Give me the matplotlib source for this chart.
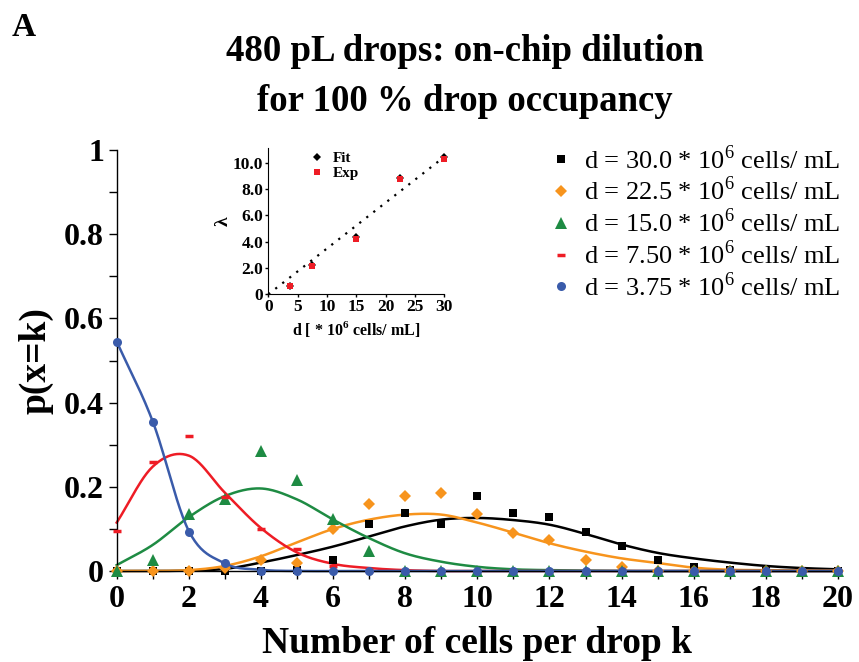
import numpy as np
import matplotlib
matplotlib.use("Agg")
import matplotlib.pyplot as plt
from matplotlib.lines import Line2D

plt.rcParams["font.family"] = ["Liberation Serif", "DejaVu Serif"]
plt.rcParams["mathtext.fontset"] = "custom"
plt.rcParams["mathtext.rm"] = "Liberation Serif"
plt.rcParams["mathtext.bf"] = "Liberation Serif:bold"

# ---- data -------------------------------------------------------------
k = list(range(21))

labels = [
    r"d = 30.0 * 10$^{6}$ cells/ mL",
    r"d = 22.5 * 10$^{6}$ cells/ mL",
    r"d = 15.0 * 10$^{6}$ cells/ mL",
    r"d = 7.50 * 10$^{6}$ cells/ mL",
    r"d = 3.75 * 10$^{6}$ cells/ mL",
]

# measured fractions of drops holding k cells
exp_30 = [0, 0, 0, 0.001, 0, 0.002, 0.026, 0.112, 0.137, 0.112, 0.178,
          0.137, 0.129, 0.093, 0.060, 0.026, 0.010, 0.003, 0.001, 0, 0]
exp_22 = [0, 0, 0, 0.006, 0.026, 0.018, 0.100, 0.160, 0.177, 0.185, 0.136,
          0.091, 0.074, 0.025, 0.010, 0, 0, 0, 0, 0, 0]
exp_15 = [0, 0.026, 0.135, 0.170, 0.284, 0.217, 0.124, 0.048, 0, 0, 0,
          0, 0, 0, 0, 0, 0, 0, 0, 0, 0]
exp_75 = [0.094, 0.260, 0.320, 0.175, 0.100, 0.052, 0.012, 0, 0, 0, 0,
          0, 0, 0, 0, 0, 0, 0, 0, 0, 0]
exp_375 = [0.545, 0.355, 0.093, 0.020, 0, 0, 0, 0, 0, 0, 0,
           0, 0, 0, 0, 0, 0, 0, 0, 0, 0]

# Poisson fits
fit_30 = [0, 0, 0.001, 0.005, 0.020, 0.038, 0.058, 0.082, 0.106, 0.122, 0.126,
          0.121, 0.110, 0.088, 0.063, 0.043, 0.030, 0.020, 0.012, 0.007, 0.004]
fit_22 = [0, 0, 0.002, 0.012, 0.035, 0.068, 0.100, 0.122, 0.134, 0.134, 0.115,
          0.091, 0.066, 0.046, 0.030, 0.019, 0.008, 0.003, 0.002, 0.001, 0.001]
fit_15 = [0.014, 0.062, 0.128, 0.178, 0.196, 0.170, 0.122, 0.078, 0.042, 0.022,
          0.010, 0.004, 0.002, 0.001, 0, 0, 0, 0, 0, 0, 0]
fit_75 = [0.115, 0.248, 0.274, 0.186, 0.102, 0.044, 0.017, 0.007, 0.002, 0, 0,
          0, 0, 0, 0, 0, 0, 0, 0, 0, 0]
fit_375 = [0.545, 0.355, 0.095, 0.018, 0.003, 0, 0, 0, 0, 0, 0,
           0, 0, 0, 0, 0, 0, 0, 0, 0, 0]

# inset: mean occupancy lambda versus cell density
dens = [3.75, 7.5, 15.0, 22.5, 30.0]
lam_fit = [0.66, 2.20, 4.36, 8.86, 10.46]
lam_exp = [0.63, 2.13, 4.19, 8.76, 10.28]
line_d = [0, 30]
line_lam = [0, 10.45]

colors = ["#000000", "#F7941D", "#1E8B43", "#EE1C25", "#3A5BAA"]
markers = ["s", "D", "^", "_", "o"]
msizes = [6, 6, 8, 5.5, 6.5]
exps = [exp_30, exp_22, exp_15, exp_75, exp_375]
fits = [fit_30, fit_22, fit_15, fit_75, fit_375]


def smooth(x, y, n=24):
    """Catmull-Rom curve through the given points."""
    x = np.asarray(x, float)
    y = np.asarray(y, float)
    p = np.concatenate([[2 * y[0] - y[1]], y, [2 * y[-1] - y[-2]]])
    xs, ys = [], []
    for i in range(len(x) - 1):
        t = np.linspace(0, 1, n, endpoint=False)
        p0, p1, p2, p3 = p[i], p[i + 1], p[i + 2], p[i + 3]
        m1 = (p2 - p0) / 2
        m2 = (p3 - p1) / 2
        h00 = 2 * t**3 - 3 * t**2 + 1
        h10 = t**3 - 2 * t**2 + t
        h01 = -2 * t**3 + 3 * t**2
        h11 = t**3 - t**2
        xs.append(x[i] + t * (x[i + 1] - x[i]))
        ys.append(h00 * p1 + h10 * m1 + h01 * p2 + h11 * m2)
    xs.append([x[-1]])
    ys.append([y[-1]])
    return np.concatenate(xs), np.concatenate(ys)


# ---- figure -------------------------------------------------------------
W, H = 859, 662
fig = plt.figure(figsize=(W / 100, H / 100), dpi=100)

ax = fig.add_axes([116.7 / W, 1 - 571 / H, (838 - 116.7) / W, (571 - 150) / H])

for c, m, ms, e, f in zip(colors, markers, msizes, exps, fits):
    sx, sy = smooth(k, f)
    ax.plot(sx, sy, color=c, lw=1.8, clip_on=False, zorder=2)
for c, m, ms, e in zip(colors, markers, msizes, exps):
    kw = dict(mew=2.5) if m == "_" else dict(mew=0)
    ax.plot(k, e, ls="none", marker=m, ms=ms, color=c, clip_on=False,
            zorder=3, **kw)

ax.set_xlim(0, 20)
ax.set_ylim(0, 1)
ax.set_xticks(range(0, 21, 2))
ax.set_xticks(range(0, 21), minor=True)
ax.set_yticks([0, 0.2, 0.4, 0.6, 0.8, 1])
ax.set_yticklabels(["0", "0.2", "0.4", "0.6", "0.8", "1"])
ax.set_yticks(np.arange(0, 1.01, 0.1), minor=True)
for s in ["top", "right"]:
    ax.spines[s].set_visible(False)
for s in ["left", "bottom"]:
    ax.spines[s].set_linewidth(1.0)
ax.tick_params(axis="both", which="both", direction="out", length=6, width=1.0)
ax.tick_params(axis="x", which="major", pad=4, labelsize=23)
ax.tick_params(axis="y", which="major", pad=3, labelsize=23)
for t in ax.get_xticklabels() + ax.get_yticklabels():
    t.set_fontweight("bold")

fig.text(477 / W, 1 - 653 / H, "Number of cells per drop k", ha="center",
         va="baseline", fontsize=27, fontweight="bold")
ax.set_ylabel("p(x=k)", fontsize=27, fontweight="bold", labelpad=8)

handles = [Line2D([], [], ls="none", marker=m, ms=ms, color=c,
                  mew=(2.5 if m == "_" else 0))
           for c, m, ms in zip(colors, markers, msizes)]
fig.legend(handles, labels, loc="upper left",
           bbox_to_anchor=(548 / W, 1 - 145 / H), frameon=False,
           fontsize=19, handlelength=1.0, handletextpad=0.35,
           labelspacing=0.12, borderpad=0, borderaxespad=0)

fig.text(465 / W, 1 - 61 / H, "480 pL drops: on-chip dilution",
         ha="center", va="baseline", fontsize=26.5, fontweight="bold")
fig.text(465 / W, 1 - 111 / H, "for 100 % drop occupancy",
         ha="center", va="baseline", fontsize=26.5, fontweight="bold")
fig.text(24 / W, 1 - 27 / H, "A", ha="center", va="center", fontsize=24,
         fontweight="bold")

# ---- inset ----------------------------------------------------------------
ins = fig.add_axes([268.3 / W, 1 - 294.3 / H, 176 / W, (294.3 - 148) / H])
ins.plot(line_d, line_lam, color="black", ls=(0, (1, 3)), lw=1.6, zorder=1,
         clip_on=False)
ins.plot(dens, lam_fit, ls="none", marker="D", ms=4, color="black", mew=0,
         zorder=2, label="Fit", clip_on=False)
ins.plot(dens, lam_exp, ls="none", marker="s", ms=5, color="#EE1C25", mew=0,
         zorder=3, label="Exp", clip_on=False)
ins.set_xlim(0, 30)
ins.set_ylim(0, 11.12)
ins.set_xticks(range(0, 31, 5))
ins.set_yticks([0, 2, 4, 6, 8, 10])
ins.set_yticklabels(["0", "2.0", "4.0", "6.0", "8.0", "10.0"])
ins.patch.set_alpha(0)
for s in ["top", "right"]:
    ins.spines[s].set_visible(False)
ins.tick_params(axis="both", direction="out", length=2, width=1.0,
                labelsize=12.5, pad=1.5)
for t in ins.get_xticklabels() + ins.get_yticklabels():
    t.set_fontweight("bold")
ins.set_xlabel(r"d [ * 10$^{\mathbf{6}}$ cells/ mL]", fontsize=11.5,
               fontweight="bold", labelpad=3)
ins.set_ylabel(r"λ", fontsize=14, fontweight="bold", labelpad=1)
leg = ins.legend(loc="upper left", bbox_to_anchor=(0.2, 1.03), frameon=False,
                 fontsize=11, handlelength=0.8, handletextpad=0.6,
                 labelspacing=0.1, borderpad=0)
for t in leg.get_texts():
    t.set_fontweight("bold")

fig.savefig("out.png", dpi=100)
